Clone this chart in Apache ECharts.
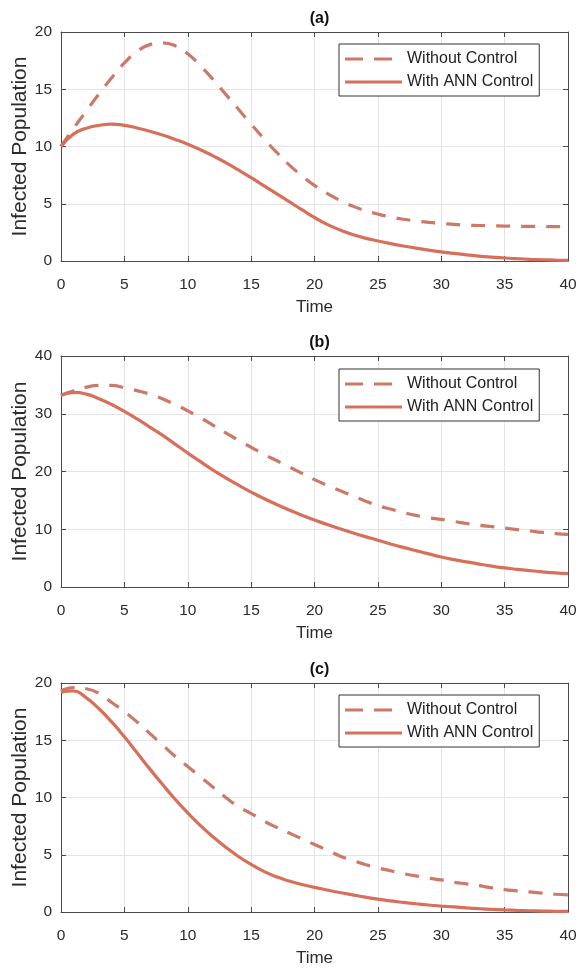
<!DOCTYPE html>
<html>
<head>
<meta charset="utf-8">
<script src="https://cdn.jsdelivr.net/npm/echarts@6/dist/echarts.min.js"></script>
<style>
html,body{margin:0;padding:0;background:#fff;}
#chart{width:579px;height:974px;}
</style>
</head>
<body>
<div id="chart"></div>
<script>
// ---- data ----
var time = [0,1,2,3,4,5,6,7,8,9,10,11,12,13,14,15,16,17,18,19,20,21,22,23,24,25,26,27,28,29,30,31,32,33,34,35,36,37,38,39,40];

var panelTitles = ['(a)', '(b)', '(c)'];
var seriesNames = ['Without Control', 'With ANN Control'];
var xTicks = [0, 5, 10, 15, 20, 25, 30, 35, 40];
var yMaxA = 20, yStepA = 5;
var yMaxB = 40, yStepB = 10;
var yMaxC = 20, yStepC = 5;

var withoutA = [10,11.6,13.1,14.6,16.0,17.3,18.3,18.9,19.05,18.8,18.1,17.05,15.85,14.55,13.25,11.95,10.7,9.5,8.4,7.45,6.6,5.9,5.3,4.8,4.4,4.1,3.85,3.65,3.5,3.37,3.28,3.2,3.13,3.1,3.07,3.05,3.03,3.02,3.01,3.0,3.0];
var withA = [10,11.1,11.6,11.85,11.95,11.85,11.62,11.33,11.0,10.62,10.2,9.72,9.18,8.6,7.95,7.28,6.58,5.88,5.18,4.48,3.8,3.2,2.72,2.32,2.0,1.75,1.52,1.31,1.12,0.95,0.8,0.66,0.54,0.43,0.34,0.26,0.2,0.15,0.11,0.08,0.06];

var withoutB = [33.2,34.0,34.6,34.9,34.9,34.5,34.0,33.4,32.6,31.6,30.5,29.3,28.0,26.7,25.4,24.2,23.0,21.9,20.8,19.7,18.6,17.6,16.7,15.8,14.9,14.1,13.5,12.9,12.4,12.0,11.7,11.35,11.0,10.7,10.45,10.2,9.95,9.7,9.45,9.25,9.1];
var withB = [33.2,33.7,33.4,32.6,31.6,30.4,29.1,27.7,26.3,24.75,23.2,21.7,20.25,18.9,17.64,16.44,15.32,14.3,13.34,12.44,11.6,10.82,10.08,9.38,8.72,8.1,7.46,6.86,6.29,5.74,5.2,4.75,4.34,3.96,3.61,3.3,3.05,2.83,2.63,2.45,2.3];

var withoutC = [19.3,19.6,19.5,19.1,18.3,17.5,16.6,15.6,14.6,13.6,12.7,11.8,10.9,10.0,9.2,8.6,7.95,7.4,6.9,6.4,5.9,5.4,4.9,4.5,4.15,3.85,3.6,3.35,3.15,2.95,2.8,2.6,2.45,2.3,2.1,1.95,1.85,1.75,1.65,1.55,1.5];
var withC = [19.2,19.3,18.7,17.75,16.6,15.3,13.9,12.5,11.15,9.85,8.65,7.55,6.55,5.65,4.85,4.15,3.55,3.07,2.7,2.4,2.15,1.92,1.7,1.5,1.3,1.12,0.97,0.84,0.72,0.61,0.52,0.44,0.36,0.29,0.23,0.18,0.14,0.11,0.08,0.06,0.05];

// ---- styling / layout ----
var FONT = "'Liberation Sans', Arial, Helvetica, sans-serif";
var solidColor = '#d6705a';
var dashColor = '#cb7a69';
var frameColor = '#4a4a4a';
var gridColor = '#e4e4e4';
var textColor = '#2b2b2b';

var panels = [
  {top: 32, height: 229, ymax: yMaxA, step: yStepA, wo: withoutA, wi: withA, legTop: 44},
  {top: 356, height: 231, ymax: yMaxB, step: yStepB, wo: withoutB, wi: withB, legTop: 369},
  {top: 683, height: 229, ymax: yMaxC, step: yStepC, wo: withoutC, wi: withC, legTop: 695}
];
var LEFT = 61, RIGHT = 579 - 568;

// legend icons (57 x 3 bars)
var dashIcon = 'path://M0,0 H18 V3 H0 Z M29,0 H47 V3 H29 Z M56.9,0 H57 V3 H56.9 Z';
var solidIcon = 'path://M0,0 H57 V3 H0 Z';

function zip(xs, ys) {
  var out = [];
  for (var i = 0; i < xs.length; i++) out.push([xs[i], ys[i]]);
  return out;
}

var option = {
  animation: false,
  backgroundColor: '#fff',
  textStyle: {fontFamily: FONT},
  title: [], grid: [], xAxis: [], yAxis: [], series: [], legend: []
};

panels.forEach(function (p, i) {
  option.grid.push({left: LEFT, right: RIGHT, top: p.top, height: p.height, containLabel: false, outerBoundsMode: 'none'});
  option.title.push({
    text: panelTitles[i], left: LEFT + (579 - LEFT - RIGHT) / 2, top: p.top - 26, textAlign: 'center',
    textStyle: {fontFamily: FONT, fontSize: 16, fontWeight: 'bold', color: '#111'}
  });
  var tickCommon = {show: true, inside: true, length: 5, lineStyle: {color: frameColor, width: 1}};
  option.xAxis.push({
    type: 'value', gridIndex: i, min: xTicks[0], max: xTicks[xTicks.length - 1], interval: 5, position: 'bottom',
    axisLine: {show: true, onZero: false, lineStyle: {color: frameColor, width: 1}},
    axisTick: tickCommon,
    axisLabel: {margin: 16, fontSize: 15.5, color: textColor, fontFamily: FONT},
    splitLine: {show: true, lineStyle: {color: gridColor, width: 1}},
    name: 'Time', nameLocation: 'middle', nameGap: 38, nameMoveOverlap: false,
    nameTextStyle: {fontSize: 17, color: textColor, fontFamily: FONT}
  });
  option.xAxis.push({
    type: 'value', gridIndex: i, min: xTicks[0], max: xTicks[xTicks.length - 1], interval: 5, position: 'top',
    axisLine: {show: true, onZero: false, lineStyle: {color: frameColor, width: 1}},
    axisTick: tickCommon, axisLabel: {show: false}, splitLine: {show: false}
  });
  option.yAxis.push({
    type: 'value', gridIndex: i, min: 0, max: p.ymax, interval: p.step, position: 'left',
    axisLine: {show: true, onZero: false, lineStyle: {color: frameColor, width: 1}},
    axisTick: tickCommon,
    axisLabel: {margin: 9, fontSize: 15.5, color: textColor, fontFamily: FONT},
    splitLine: {show: true, lineStyle: {color: gridColor, width: 1}},
    name: 'Infected Population', nameLocation: 'middle', nameGap: 30, nameMoveOverlap: false,
    nameTextStyle: {fontSize: 21, color: textColor, fontFamily: FONT}
  });
  option.yAxis.push({
    type: 'value', gridIndex: i, min: 0, max: p.ymax, interval: p.step, position: 'right',
    axisLine: {show: true, onZero: false, lineStyle: {color: frameColor, width: 1}},
    axisTick: tickCommon, axisLabel: {show: false}, splitLine: {show: false}
  });

  option.series.push({
    name: seriesNames[0], type: 'line', xAxisIndex: 2 * i, yAxisIndex: 2 * i,
    data: zip(time, p.wo), showSymbol: false, symbol: 'none', smooth: 0.5,
    lineStyle: {color: dashColor, width: 3.2, type: [14, 11], cap: 'butt'}, itemStyle: {color: dashColor}, z: 2
  });
  option.series.push({
    name: seriesNames[1], type: 'line', xAxisIndex: 2 * i, yAxisIndex: 2 * i,
    data: zip(time, p.wi), showSymbol: false, symbol: 'none', smooth: 0.5,
    lineStyle: {color: solidColor, width: 3.2, type: 'solid'}, itemStyle: {color: solidColor}, z: 3
  });

  option.legend.push({
    orient: 'vertical', left: 339, top: p.legTop,
    data: [
      {name: seriesNames[0], icon: dashIcon, itemStyle: {color: dashColor}},
      {name: seriesNames[1], icon: solidIcon, itemStyle: {color: solidColor}}
    ],
    itemWidth: 57, itemHeight: 14, itemGap: 5, symbolKeepAspect: true,
    padding: [6, 6, 5, 6],
    backgroundColor: '#fff', borderColor: '#333', borderWidth: 1, borderRadius: 0,
    selectedMode: false,
    textStyle: {fontSize: 16, color: '#222', fontFamily: FONT, lineHeight: 18}
  });
});

var chart = echarts.init(document.getElementById('chart'), null, {renderer: 'canvas'});
chart.setOption(option);
</script>
</body>
</html>
